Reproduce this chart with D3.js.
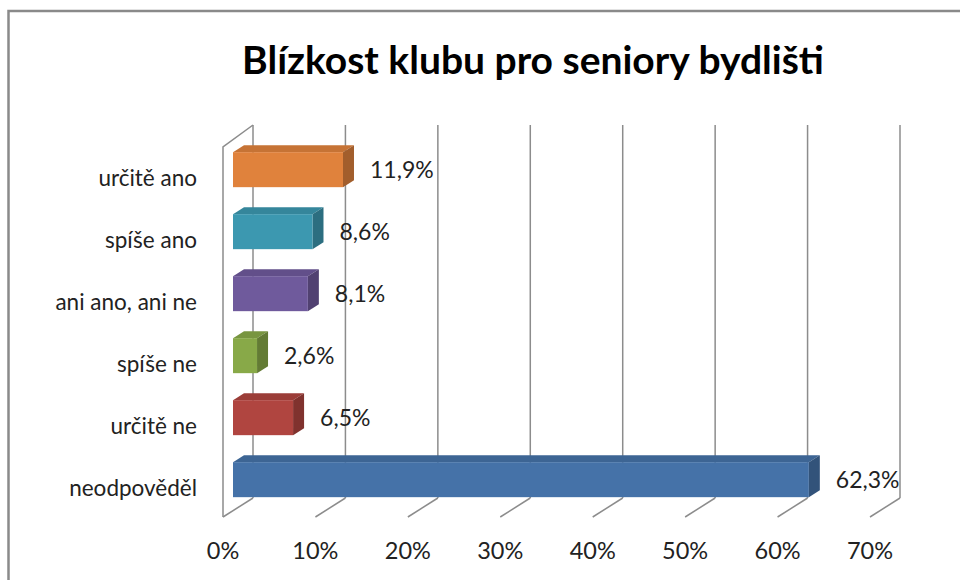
<!DOCTYPE html>
<html>
<head>
<meta charset="utf-8">
<script src="https://cdn.jsdelivr.net/npm/d3@7"></script>
<style>
  body { margin: 0; background: #fff; }
  text { font-family: Lato, "Open Sans", sans-serif; fill: #222; }
</style>
</head>
<body>
<div id="chart"></div>
<script>
// data
var categories = ["určitě ano", "spíše ano", "ani ano, ani ne", "spíše ne", "určitě ne", "neodpověděl"];
var values = [11.9, 8.6, 8.1, 2.6, 6.5, 62.3];
var valueLabels = ["11,9%", "8,6%", "8,1%", "2,6%", "6,5%", "62,3%"];
var ticks = [0, 10, 20, 30, 40, 50, 60, 70];
var tickLabels = ["0%", "10%", "20%", "30%", "40%", "50%", "60%", "70%"];
var colors = ["#e0823c", "#3c98b0", "#6f5a9c", "#88a948", "#b04540", "#4572a8"];

var width = 960, height = 580;

var svg = d3.select("#chart").append("svg")
    .attr("width", width)
    .attr("height", height);

// chart frame
svg.append("rect")
    .attr("x", 8.5).attr("y", 11)
    .attr("width", 1000).attr("height", 700)
    .attr("fill", "none")
    .attr("stroke", "#8a8a8a")
    .attr("stroke-width", 2.5);

// title
svg.append("text")
    .attr("x", 533).attr("y", 74)
    .attr("text-anchor", "middle")
    .style("font-size", "39px")
    .style("font-weight", "bold")
    .style("fill", "#000")
    .text("Blízkost klubu pro seniory bydlišti");

// 3d geometry: front floor plane and depth offset
var depthX = 30, depthY = -19;
var floorY = 517, wallTop = 125;

var xFront = d3.scaleLinear().domain([0, 70]).range([223, 223 + 647]);
function xAt(v, d) { return xFront(v) + depthX * d; }
function yOff(d) { return depthY * d; }

var y = d3.scalePoint().domain(categories).range([170, 480]);
var barH = 35;
var barD0 = 1 / 3, barD1 = 0.7;

var grid = svg.append("g")
    .attr("stroke", "#8c8c8c")
    .attr("stroke-width", 1.5)
    .attr("fill", "none");

// back wall vertical lines
grid.selectAll(".vline")
    .data(ticks)
    .enter().append("line")
    .attr("x1", function(d) { return xAt(d, 1); })
    .attr("x2", function(d) { return xAt(d, 1); })
    .attr("y1", wallTop)
    .attr("y2", floorY + depthY);

// floor diagonals
grid.selectAll(".fline")
    .data(ticks)
    .enter().append("line")
    .attr("x1", function(d) { return xAt(d, 0); })
    .attr("y1", floorY)
    .attr("x2", function(d) { return xAt(d, 1); })
    .attr("y2", floorY + depthY);

// left side wall
grid.append("path")
    .attr("d", "M" + xAt(0, 0) + "," + floorY +
               "L" + xAt(0, 0) + "," + (wallTop - depthY + 3) +
               "L" + xAt(0, 1) + "," + wallTop);

// bars
var bars = svg.selectAll(".bar")
    .data(categories)
    .enter().append("g")
    .attr("class", "bar");

bars.each(function(c, i) {
    var g = d3.select(this);
    var v = values[i];
    var col = d3.color(colors[i]);
    var x0 = xAt(0, barD0), x1 = xAt(v, barD0);
    var dx = depthX * (barD1 - barD0), dy = depthY * (barD1 - barD0);
    var yc = y(c) + yOff(barD0) + 6;
    var yt = yc - barH / 2, yb = yc + barH / 2;
    // top face
    g.append("path")
        .attr("d", "M" + x0 + "," + yt + "L" + (x0 + dx) + "," + (yt + dy) +
                   "L" + (x1 + dx) + "," + (yt + dy) + "L" + x1 + "," + yt + "Z")
        .attr("fill", col.darker(0.35));
    // side face
    g.append("path")
        .attr("d", "M" + x1 + "," + yt + "L" + (x1 + dx) + "," + (yt + dy) +
                   "L" + (x1 + dx) + "," + (yb + dy) + "L" + x1 + "," + yb + "Z")
        .attr("fill", col.darker(0.9));
    // front face
    g.append("rect")
        .attr("x", x0).attr("y", yt)
        .attr("width", x1 - x0).attr("height", barH)
        .attr("fill", col);
    // value label
    g.append("text")
        .attr("x", x1 + dx + 16)
        .attr("y", yc)
        .attr("dy", "0.35em")
        .style("font-size", "23px")
        .text(valueLabels[i]);
});

// category labels
svg.selectAll(".cat")
    .data(categories)
    .enter().append("text")
    .attr("x", 197)
    .attr("y", function(d) { return y(d) + 8; })
    .attr("dy", "0.35em")
    .attr("text-anchor", "end")
    .style("font-size", "22.5px")
    .text(function(d) { return d; });

// x tick labels
svg.selectAll(".tick")
    .data(ticks)
    .enter().append("text")
    .attr("x", function(d) { return xAt(d, 0); })
    .attr("y", 551)
    .attr("dy", "0.35em")
    .attr("text-anchor", "middle")
    .style("font-size", "23.5px")
    .text(function(d, i) { return tickLabels[i]; });
</script>
</body>
</html>
